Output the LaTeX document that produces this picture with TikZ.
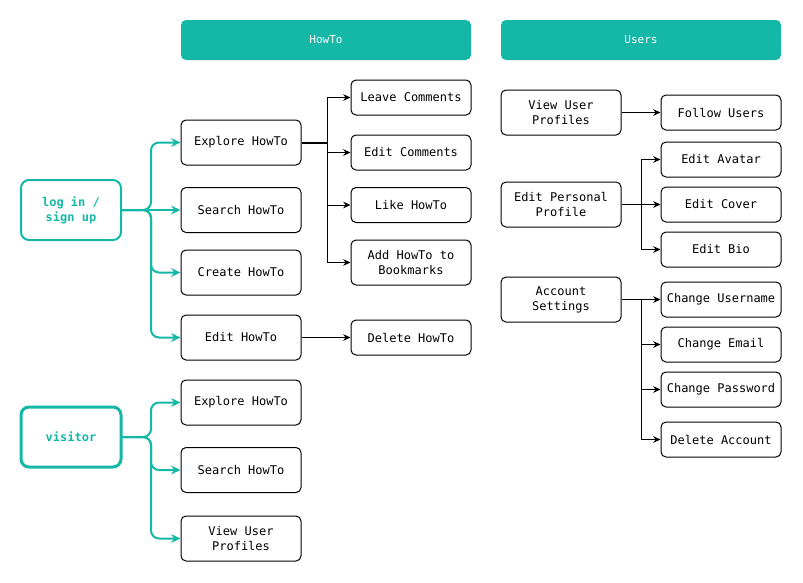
\documentclass[tikz,border=0pt]{standalone}
\usepackage{fontspec}
\setmonofont{DejaVu Sans Mono}
\usetikzlibrary{arrows.meta}
\definecolor{tteal}{HTML}{15B8A6}

\begin{document}
\begin{tikzpicture}[
    x=0.75pt, y=-0.75pt,
    every node/.style={font=\ttfamily\fontsize{9}{11.25}\selectfont, align=center, inner sep=0pt},
    box/.style={draw, line width=0.75pt, rounded corners=3.75pt, minimum width=90pt, minimum height=33.75pt},
    flatbox/.style={box, minimum height=26.25pt},
    header/.style={fill=tteal, text=white, rounded corners=3.75pt, minimum height=30pt, font=\ttfamily\fontsize{8.3}{10}\selectfont},
    role/.style={draw=tteal, text=tteal, line width=1.5pt, rounded corners=6pt, minimum width=75pt, minimum height=45pt, font=\ttfamily\bfseries\fontsize{9}{11.25}\selectfont},
    link/.style={-{Stealth[length=5.5pt,width=5pt]}, line width=0.75pt},
    tlink/.style={tteal, line width=1.5pt, rounded corners=6pt, -{Stealth[length=7pt,width=6.5pt]}},
  ]
  \useasboundingbox (0,0) rectangle (803,582);
  % column headers
  \node[header, minimum width=217.5pt] (howto) at (326,40) {HowTo};
  \node[header, minimum width=210pt] (users) at (641,40) {Users};
  % roles
  \node[role] (login) at (71,210) {log in /\\sign up};
  \node[role, line width=2.25pt] (visitor) at (71,437) {visitor};
  % howto column
  \node[box] (explore) at (241,142.5) {Explore HowTo};
  \node[box] (search) at (241,210) {Search HowTo};
  \node[box] (create) at (241,272.5) {Create HowTo};
  \node[box] (edit) at (241,337.5) {Edit HowTo};
  \node[box] (vexplore) at (241,402.5) {Explore HowTo};
  \node[box] (vsearch) at (241,470) {Search HowTo};
  \node[box] (vview) at (241,538.5) {View User\\Profiles};
  \node[flatbox] (leave) at (411,97.5) {Leave Comments};
  \node[flatbox] (editc) at (411,152.5) {Edit Comments};
  \node[flatbox] (like) at (411,205) {Like HowTo};
  \node[box] (bookmark) at (411,262.5) {Add HowTo to\\Bookmarks};
  \node[flatbox] (delete) at (411,337.5) {Delete HowTo};
  % users column
  \node[box] (view) at (561,112.5) {View User\\Profiles};
  \node[flatbox] (follow) at (721,112.5) {Follow Users};
  \node[box] (profile) at (561,204.5) {Edit Personal\\Profile};
  \node[flatbox] (avatar) at (721,159.5) {Edit Avatar};
  \node[flatbox] (cover) at (721,204.5) {Edit Cover};
  \node[flatbox] (bio) at (721,249.5) {Edit Bio};
  \node[box] (account) at (561,299.5) {Account\\Settings};
  \node[flatbox] (username) at (721,299.5) {Change Username};
  \node[flatbox] (email) at (721,344.5) {Change Email};
  \node[flatbox] (password) at (721,389.5) {Change Password};
  \node[flatbox] (delacc) at (721,439.5) {Delete Account};
  % teal links
  \coordinate (lj) at (151,210);
  \coordinate (vj) at (151,437);
  \foreach \t in {explore, create, edit}
    \draw[tlink] (login.east) -- (lj) |- (\t.west);
  \draw[tlink] (login.east) -- (search.west);
  \foreach \t in {vexplore, vsearch, vview}
    \draw[tlink] (visitor.east) -- (vj) |- (\t.west);
  % black links
  \coordinate (ej) at (327,142.5);
  \draw[line width=1.5pt] (explore.east) -- (ej);
  \foreach \t in {leave, editc, like, bookmark}
    \draw[link] (ej) |- (\t.west);
  \draw[link] (edit.east) -- (delete.west);
  \draw[link] (view.east) -- (follow.west);
  \coordinate (pj) at (641,204.5);
  \draw[line width=0.75pt] (profile.east) -- (pj);
  \foreach \t in {avatar, cover, bio}
    \draw[link] (pj) |- (\t.west);
  \coordinate (aj) at (641,299.5);
  \draw[line width=0.75pt] (account.east) -- (aj);
  \foreach \t in {username, email, password, delacc}
    \draw[link] (aj) |- (\t.west);
\end{tikzpicture}
\end{document}
